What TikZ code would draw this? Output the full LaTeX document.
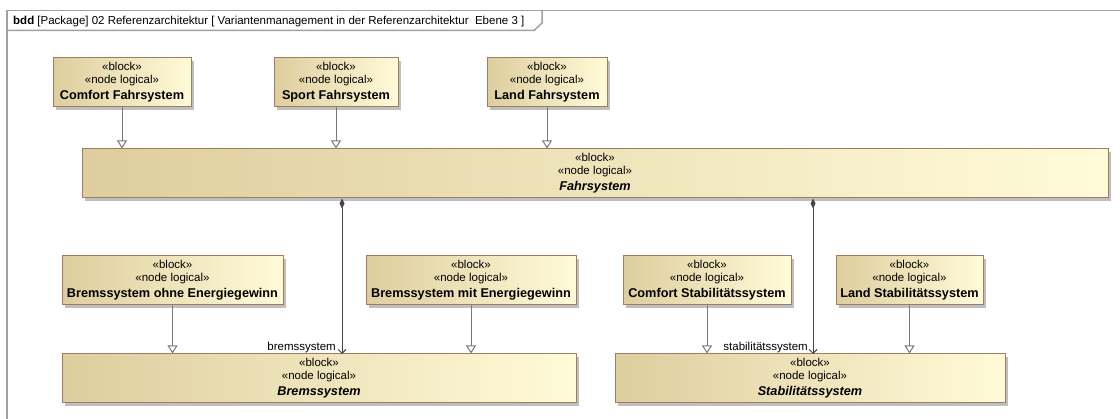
\documentclass[tikz,border=0pt]{standalone}
\usepackage{fontspec}
\setmainfont{Liberation Sans}
\usetikzlibrary{arrows.meta,shadows}

\definecolor{blockL}{RGB}{222,205,158}
\definecolor{blockR}{RGB}{255,251,216}
\definecolor{blockBorder}{RGB}{160,124,96}
\definecolor{frameGray}{RGB}{160,160,160}
\definecolor{genGray}{RGB}{120,120,120}
\definecolor{compGray}{RGB}{70,70,70}

\tikzset{
  blk/.style={draw=blockBorder, line width=1pt, left color=blockL, right color=blockR,
    drop shadow={shadow xshift=3pt, shadow yshift=-3pt, fill=black!25, opacity=1},
    minimum height=49pt, inner sep=0pt, align=center,
    font=\fontsize{11.5}{12.5}\selectfont},
  gen/.style={draw=genGray, line width=1pt, -{Triangle[open, length=8pt, width=10pt]}},
  comp/.style={draw=compGray, line width=1pt,
    {Diamond[length=10pt, width=5pt]}-{Straight Barb[length=4pt, width=8pt]}},
  frame/.style={draw=frameGray, line width=1.5pt},
  role/.style={font=\fontsize{11.5}{12}\selectfont, inner sep=1pt}
}

\newcommand{\stereo}[1]{«block»\\«node logical»\\[4pt]{\fontsize{12.7}{13}\selectfont\bfseries #1}}

\begin{document}
\begin{tikzpicture}[x=1pt,y=-1pt]
\useasboundingbox (0,0) rectangle (1120,419);

\draw[frame] (1120,10.5) -- (7,10.5) -- (7,419);
\draw[frame] (7,30.5) -- (534,30.5) -- (542,23) -- (542,10.5);      % Rahmenkopf
\node[anchor=base west, inner sep=0pt, font=\fontsize{11.5}{12}\selectfont] (hdr) at (13,24.5)
  {\textbf{bdd} [Package] 02 Referenzarchitektur [ Variantenmanagement in der Referenzarchitektur \ Ebene 3 ]};

\node[blk, minimum width=1026pt] (fahr) at (595,173.5) {\stereo{\textit{Fahrsystem}}};

\foreach \n/\x/\w/\t in {cf/122/138/Comfort Fahrsystem, sf/336/124/Sport Fahrsystem, lf/547/120/Land Fahrsystem}
{
	\node[blk, minimum width=\w pt] (\n) at (\x,82.5) {\stereo{\t}};
	\draw[gen] (\n) -- (\n |- fahr.north);
};                               % Varianten Fahrsystem

\node[blk, minimum width=514pt] (brems) at (319,378.5) {\stereo{\textit{Bremssystem}}};
\node[blk, minimum width=390pt] (stab) at (810,378.5) {\stereo{\textit{Stabilitätssystem}}};

\foreach \n/\x/\w/\t/\p in {bo/172.5/221/Bremssystem ohne Energiegewinn/brems,
  bm/471/210/Bremssystem mit Energiegewinn/brems,
  cs/707/168/Comfort Stabilitätssystem/stab,
  ls/909.5/147/Land Stabilitätssystem/stab}
{
	\node[blk, minimum width=\w pt] (\n) at (\x,280.5) {\stereo{\t}};
	\draw[gen] (\n) -- (\n |- \p.north);
};                               % Varianten Brems/Stabilitaet

\coordinate (bremsend) at (342,354);
\coordinate (stabend) at (813,354);
\draw[comp] (bremsend |- fahr.south) -- (bremsend);
\draw[comp] (stabend |- fahr.south) -- (stabend);
\node[role, anchor=south east, xshift=-5pt] (lblbrems) at (bremsend) {bremssystem};
\node[role, anchor=south east, xshift=-4pt] (lblstab) at (stabend) {stabilitätssystem};
\end{tikzpicture}
\end{document}
